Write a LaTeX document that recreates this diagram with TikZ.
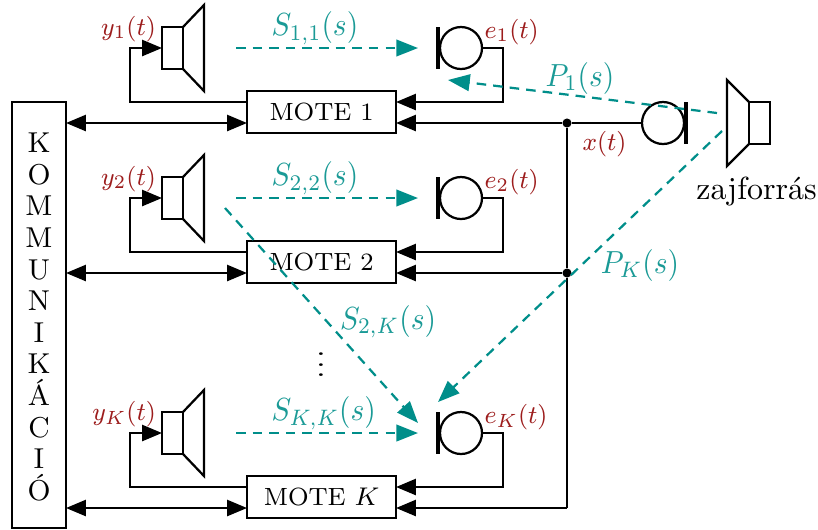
\documentclass[tikz,border=0pt]{standalone}
\usetikzlibrary{arrows.meta}
\definecolor{teallabel}{HTML}{1A9A96}
\definecolor{tealline}{HTML}{008E8A}
\definecolor{redlabel}{HTML}{9C1C1C}
\newcommand{\squeezed}[2]{\scalebox{#1}[1]{$#2$}}
\tikzset{
  wire/.style={line width=0.7pt},
  box/.style={draw, wire, rectangle, inner sep=0pt, outer sep=0pt, font=\fontsize{7.8}{9}\selectfont},
  spkbox/.style={draw, wire, rectangle, inner sep=0pt, outer sep=0pt, minimum width=0.231cm, minimum height=0.462cm},
  micbody/.style={draw, wire, circle, inner sep=0pt, outer sep=0pt, minimum size=0.462cm},
  dotnode/.style={fill, circle, inner sep=0pt, minimum size=0.1cm},
  sig/.style={wire, -{Triangle[length=6.2pt,width=5pt]}},
  bisig/.style={wire, {Triangle[length=6.2pt,width=5pt]}-{Triangle[length=6.2pt,width=5pt]}},
  acoustic/.style={wire, tealline, dash pattern=on 3pt off 2.2pt, -{Triangle[length=6.8pt,width=5.2pt]}},
  redtext/.style={redlabel, inner sep=0pt, font=\footnotesize},
  tealtext/.style={teallabel, inner sep=0pt, font=\normalsize}
}
\begin{document}
\begin{tikzpicture}[x=0.011cm, y=-0.011cm]
\useasboundingbox (0,0) rectangle (818,529);

% Communication bar on the left
\node[box, minimum width=0.594cm, minimum height=4.686cm] (komm) at (39,315) {};
\node[inner sep=0pt, align=center, font=\fontsize{9}{9.9}\selectfont] (kommtext) at (39,317)
  {K\\O\\M\\M\\U\\N\\I\\K\\Á\\C\\I\\Ó};

% One row for each mote
\foreach \i/\y/\yname/\ename/\sname/\mname in {
    1/0/{y_1(t)}/{e_1(t)}/{S_{1,1}(s)}/{MOTE 1},
    2/150/{y_2(t)}/{e_2(t)}/{S_{2,2}(s)}/{MOTE 2},
    K/385/{y_K(t)}/{e_K(t)}/{S_{K,K}(s)}/{MOTE $K$}} {
  \node[box, minimum width=1.639cm, minimum height=0.462cm] (mote\i) at (321.5,112+\y) {\mname};
  \node[spkbox] (spk\i) at (172.5,48+\y) {};
  \node[micbody] (mic\i) at (461,48+\y) {};

  % Speaker cone and microphone bar
  \draw[wire] (spk\i.north east) -- (204,5+\y) -- (204,91+\y) -- (spk\i.south east);
  \draw[line width=0.95pt] (438,27+\y) -- (438,69+\y);

  % Named ends on the sides of the mote
  \coordinate (leftup\i) at (247,102+\y);
  \coordinate (leftlow\i) at (247,123+\y);
  \coordinate (rightup\i) at (396,102+\y);
  \coordinate (rightlow\i) at (396,123+\y);
  \coordinate (sfrom\i) at (236,48+\y);
  \coordinate (sto\i) at (418,48+\y);

  % Wires of the row
  \draw[sig] (leftup\i) -- ++(-117,0) |- (spk\i.west);
  \draw[sig] (mic\i.east) -- ++(21,0) |- (rightup\i);
  \draw[bisig] (komm.east |- leftlow\i) -- (leftlow\i);
  \draw[acoustic] (sfrom\i) -- (sto\i);

  % Labels of the row
  \node[tealtext, anchor=base west] (slabel\i) at (271,35.5+\y) {\squeezed{0.92}{\sname}};
  \node[redtext, anchor=base east] (ylabel\i) at (156.5,35+\y) {\squeezed{0.95}{\yname}};
  \node[redtext, anchor=base west] (elabel\i) at (484,38+\y) {\squeezed{0.95}{\ename}};
}

% Reference microphone and the bus
\node[micbody] (refmic) at (663,123) {};
\draw[line width=0.95pt] (686,102) -- (686,144);
\node[dotnode] (tap1) at (567,123) {};
\node[dotnode] (tap2) at (567,273) {};
\coordinate (tapK) at (567,508);
\draw[wire] (refmic.west) -- (tap1) -- (tap2) -- (tapK);
\draw[sig] (tap1) -- (rightlow1);
\draw[sig] (tap2) -- (rightlow2);
\draw[sig] (tapK) -- (rightlowK);
\node[redtext, anchor=base] (xlabel) at (604.5,150) {\squeezed{0.95}{x(t)}};

% Noise source
\node[spkbox] (noise) at (759.5,123) {};
\draw[wire] (noise.north west) -- (727,80) -- (727,166) -- (noise.south west);
\node[inner sep=0pt, anchor=base] (noiselabel) at (756.5,199) {zajforrás};

% Acoustic paths
\coordinate (pfrom1) at (717,113);
\coordinate (pto1) at (448,80);
\coordinate (pfromK) at (722,131);
\coordinate (ptoK) at (438,402);
\coordinate (sfromX) at (225,208);
\coordinate (stoX) at (418,423);
\draw[acoustic] (pfrom1) -- (pto1);
\draw[acoustic] (pfromK) -- (ptoK);
\draw[acoustic] (sfromX) -- (stoX);
\node[tealtext, anchor=base] (plabel1) at (580,86) {\squeezed{0.92}{P_1(s)}};
\node[tealtext, anchor=base] (plabelK) at (640,273) {\squeezed{0.92}{P_K(s)}};
\node[tealtext, anchor=base] (slabelX) at (388,329) {\squeezed{0.92}{S_{2,K}(s)}};

% Dots between the rows
\node[inner sep=0pt] (rowdots) at (321,357) {\scalebox{1.1}[0.82]{$\vdots$}};
\end{tikzpicture}
\end{document}
